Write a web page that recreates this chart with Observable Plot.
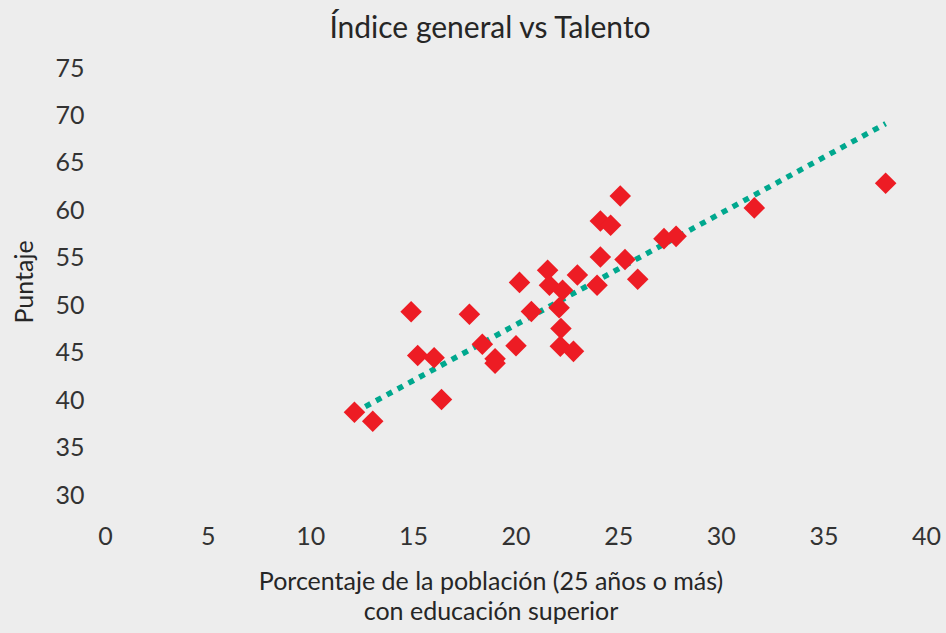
<!DOCTYPE html>
<html>
<head>
<meta charset="utf-8">
<script src="https://cdn.jsdelivr.net/npm/d3@7"></script>
<script src="https://cdn.jsdelivr.net/npm/@observablehq/plot@0.6"></script>
<style>
  html, body { margin: 0; padding: 0; background: #ededed; }
  #wrap { width: 946px; height: 633px; background: #ededed; font-family: Lato, "Open Sans", sans-serif; color: #333; }
  #title { height: 52px; line-height: 52px; font-size: 30px; text-align: center; padding-left: 34px; box-sizing: border-box; color: #262626; }
</style>
</head>
<body>
<div id="wrap">
  <div id="title">Índice general vs Talento</div>
  <div id="chart"></div>
</div>
<script>
// Porcentaje de la población (25 años o más) con educación superior
const xVals = [12.13, 13.02, 14.89, 15.21, 16.01, 16.37, 17.73, 18.36, 18.98, 18.98,
               20.17, 20.00, 20.75, 21.54, 21.63, 22.27, 22.10, 22.19, 22.16, 22.80,
               22.99, 23.95, 24.11, 24.11, 24.61, 25.08, 25.31, 25.93, 27.21, 27.80,
               31.61, 38.01];
// Puntaje
const yVals = [38.78, 37.83, 49.37, 44.76, 44.52, 40.12, 49.09, 45.93, 44.42, 43.95,
               52.46, 45.79, 49.40, 53.73, 52.15, 51.62, 49.79, 47.61, 45.74, 45.19,
               53.23, 52.15, 55.13, 58.93, 58.47, 61.56, 54.86, 52.78, 57.07, 57.31,
               60.31, 62.90];
// Línea de tendencia (extremos)
const trendX = [12.13, 38.01];
const trendY = [38.75, 69.19];

const xTicks = [0, 5, 10, 15, 20, 25, 30, 35, 40];
const yTicks = [30, 35, 40, 45, 50, 55, 60, 65, 70, 75];
const yLabel = "Puntaje";
const xLabelLines = ["Porcentaje de la población (25 años o más)", "con educación superior"];

const points = xVals.map((x, i) => ({x, y: yVals[i]}));
const trend = trendX.map((x, i) => ({x, y: trendY[i]}));

const chart = Plot.plot({
  width: 946,
  height: 581,
  marginLeft: 105,
  marginRight: 20,
  marginTop: 16,
  marginBottom: 138,
  style: {background: "transparent", fontFamily: "Lato, 'Open Sans', sans-serif", fontSize: "25px", color: "#333"},
  x: {domain: [0, 40]},
  y: {domain: [30, 75]},
  marks: [
    Plot.axisX({ticks: xTicks, tickSize: 0, tickPadding: 32, label: null, tickFormat: d => String(d)}),
    Plot.axisY({ticks: yTicks, tickSize: 0, tickPadding: 21, label: null, tickFormat: d => String(d)}),
    Plot.line(trend, {x: "x", y: "y", stroke: "#00a88e", strokeWidth: 5.5, strokeDasharray: "6,6.3", strokeLinecap: "butt"}),
    Plot.dot(points, {x: "x", y: "y", symbol: "diamond2", r: 9.7, fill: "#ed1c24", stroke: "none"}),
    Plot.text([yLabel], {text: d => d, frameAnchor: "left", textAnchor: "middle", lineAnchor: "middle", rotate: -90, dx: -81, fontSize: 25, fill: "#262626"}),
    Plot.text([xLabelLines[0]], {text: d => d, frameAnchor: "bottom", textAnchor: "middle", lineAnchor: "middle", dy: 86, dx: -25, fontSize: 25, fill: "#262626"}),
    Plot.text([xLabelLines[1]], {text: d => d, frameAnchor: "bottom", textAnchor: "middle", lineAnchor: "middle", dy: 116, dx: -25, fontSize: 25, fill: "#262626"})
  ]
});
document.getElementById("chart").appendChild(chart);
</script>
</body>
</html>
